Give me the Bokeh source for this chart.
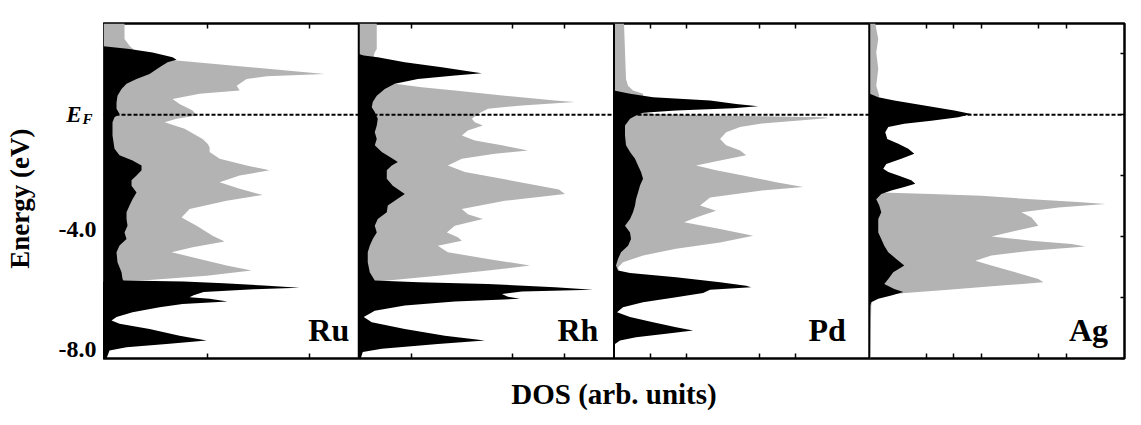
from math import pi
from bokeh.plotting import figure
from bokeh.layouts import row
from bokeh.models import Range1d, FixedTicker, LinearAxis, Span
from bokeh.core.properties import value
from bokeh.embed import file_html
from bokeh.resources import INLINE

metals = ["Ru", "Rh", "Pd", "Ag"]
panel_width = 255  # DOS (arb. units) span of one panel

# ---- Ru ----
ru_black_E = [3.0, 2.25, 2.16, 2.05, 1.89, 1.81, 1.73, 1.56, 1.34, 1.18, 1.02, 0.85, 0.63, 0.41, 0.20, 0.03,
              -0.08, -0.24, -0.68, -1.11, -1.33, -1.50, -1.66, -1.82, -1.99, -2.15, -2.33, -2.55, -2.77, -2.98,
              -3.20, -3.42, -3.64, -3.86, -4.08, -4.29, -4.51, -4.84, -5.17, -5.39, -5.44, -5.47, -5.53, -5.60,
              -5.68, -5.73, -5.82, -5.92, -5.99, -6.04, -6.13, -6.21, -6.32, -6.48, -6.64, -6.75, -6.86, -7.03,
              -7.25, -7.41, -7.52, -7.63, -7.74, -8.0]
ru_black_dos = [0, 0, 26, 49, 69, 73, 64, 56, 46, 33, 23, 18, 14, 13, 13, 16,
                11, 9, 9, 11, 16, 29, 38, 38, 33, 28, 28, 33, 29, 26,
                23, 23, 24, 21, 23, 16, 13, 14, 18, 19, 20, 80, 120, 160,
                196, 150, 100, 90, 86, 106, 124, 79, 56, 29, 13, 8, 16, 46,
                76, 103, 63, 23, 6, 3]
ru_gray_E = [3.0, 2.49, 2.27, 2.0, 1.85, 1.78, 1.34, 1.27, 1.18, 0.96, 0.80, 0.69, 0.52, 0.36, 0.14, -0.02,
             -0.13, -0.24, -0.46, -0.79, -0.95, -1.06, -1.22, -1.44, -1.66, -1.82, -1.99, -2.21, -2.43, -2.63,
             -2.82, -3.09, -3.37, -3.64, -3.97, -4.16, -4.35, -4.51, -4.73, -4.95, -5.11, -5.28, -5.42, -5.48, -8.0]
ru_gray_dos = [21, 21, 26, 35, 50, 76, 221, 163, 143, 133, 136, 96, 69, 76, 89, 93,
               73, 61, 81, 99, 104, 106, 106, 116, 143, 166, 136, 116, 136, 159,
               123, 86, 78, 93, 109, 121, 89, 68, 96, 123, 148, 103, 46, 0, 0]

# ---- Rh ----
rh_black_E = [3.0, 2.0, 1.95, 1.89, 1.73, 1.56, 1.40, 1.37, 1.29, 1.18, 1.02, 0.85, 0.63, 0.42, 0.25, 0.09,
              -0.13, -0.35, -0.57, -0.79, -1.00, -1.22, -1.44, -1.55, -1.66, -1.82, -2.10, -2.33, -2.60, -2.82,
              -2.98, -3.20, -3.42, -3.64, -3.86, -4.08, -4.30, -4.51, -4.84, -5.17, -5.44, -5.50, -5.55, -5.66,
              -5.74, -5.80, -5.88, -5.97, -6.04, -6.13, -6.26, -6.43, -6.64, -6.81, -7.03, -7.25, -7.41, -7.52,
              -7.68, -7.79, -8.0]
rh_black_dos = [0, 0, 5, 19, 46, 83, 116, 123, 96, 59, 36, 26, 18, 14, 13, 16,
                19, 18, 16, 18, 16, 23, 34, 39, 33, 28, 28, 34, 46, 36,
                29, 28, 19, 16, 18, 14, 11, 9, 9, 11, 16, 60, 129, 196,
                234, 163, 143, 149, 161, 96, 46, 16, 5, 13, 46, 86, 126, 79,
                23, 4, 2]
rh_gray_E = [3.0, 2.16, 2.06, 1.95, 1.5, 1.02, 0.91, 0.80, 0.63, 0.47, 0.42, 0.31, 0.20, 0.03, -0.13, -0.24,
             -0.35, -0.51, -0.68, -0.84, -1.00, -1.17, -1.28, -1.44, -1.66, -1.88, -2.10, -2.33, -2.45, -2.60,
             -2.82, -3.09, -3.26, -3.42, -3.64, -3.86, -4.02, -4.13, -4.30, -4.51, -4.73, -4.95, -5.11, -5.28,
             -5.44, -5.50, -8.0]
rh_gray_dos = [18, 18, 16, 15, 15, 36, 63, 96, 146, 196, 216, 163, 129, 119, 113, 116,
               124, 109, 103, 116, 143, 169, 136, 103, 89, 106, 143, 180, 200, 206,
               146, 103, 109, 124, 96, 88, 99, 103, 79, 89, 129, 171, 129, 79,
               29, 0, 0]

# ---- Pd ----
pd_black_E = [3.0, 0.80, 0.69, 0.58, 0.47, 0.36, 0.28, 0.22, 0.14, 0.07, -0.02, -0.13, -0.35, -0.68, -1.00,
              -1.22, -1.44, -1.66, -1.88, -2.10, -2.32, -2.55, -2.77, -2.98, -3.20, -3.42, -3.64, -3.86, -4.08,
              -4.30, -4.51, -4.73, -4.95, -5.11, -5.19, -5.33, -5.50, -5.61, -5.66, -5.74, -5.85, -5.99, -6.15,
              -6.32, -6.48, -6.64, -6.81, -6.97, -7.08, -7.19, -7.30, -7.41, -7.52, -8.0]
pd_black_dos = [0, 0, 16, 39, 96, 122, 144, 119, 62, 29, 22, 16, 11, 11, 12,
                16, 21, 24, 27, 29, 26, 24, 22, 21, 19, 16, 11, 16, 17,
                14, 7, 4, 2, 4, 16, 62, 106, 132, 137, 96, 89, 62, 29,
                9, 3, 16, 39, 62, 79, 52, 22, 6, 1, 0]
pd_gray_E = [3.0, 1.18, 0.96, 0.80, 0.69, 0.10, 0.03, -0.02, -0.08, -0.10, -0.19, -0.29, -0.40, -0.57, -0.79,
             -1.00, -1.17, -1.33, -1.50, -1.66, -1.82, -1.99, -2.21, -2.37, -2.49, -2.71, -2.98, -3.15, -3.37,
             -3.53, -3.75, -3.97, -4.19, -4.40, -4.62, -4.84, -5.01, -5.11, -5.19, -8.0]
pd_gray_dos = [10, 12, 14, 19, 29, 30, 39, 96, 209, 215, 182, 146, 126, 112, 106,
               112, 126, 132, 106, 82, 102, 129, 162, 189, 146, 96, 86, 102, 82,
               70, 106, 139, 106, 62, 29, 9, 4, 5, 0, 0]

# ---- Ag ----
ag_black_E = [3.0, 0.70, 0.58, 0.47, 0.31, 0.14, 0.03, -0.08, -0.19, -0.29, -0.40, -0.57, -0.79, -0.95, -1.11,
              -1.28, -1.44, -1.61, -1.77, -1.88, -1.99, -2.15, -2.26, -2.37, -2.48, -2.60, -2.77, -2.98, -3.20,
              -3.42, -3.64, -3.86, -4.08, -4.30, -4.51, -4.73, -4.95, -5.17, -5.39, -5.55, -5.72, -5.82, -5.93,
              -6.04, -6.15, -6.26, -8.0]
ag_black_dos = [0, 0, 9, 25, 55, 85, 102, 89, 62, 35, 19, 16, 18, 29, 39,
                45, 32, 17, 14, 19, 29, 42, 46, 35, 22, 12, 7, 10, 12,
                9, 9, 9, 12, 15, 19, 27, 35, 24, 19, 15, 25, 34, 22,
                9, 2, 1, 0]
ag_gray_E = [3.0, 2.49, 2.06, 1.51, 0.96, 0.63, 0.40, -2.40, -2.55, -2.60, -2.66, -2.77, -2.87, -2.93, -3.04,
             -3.20, -3.37, -3.64, -3.86, -3.99, -4.13, -4.24, -4.32, -4.46, -4.62, -4.79, -4.95, -5.17, -5.39,
             -5.50, -5.61, -5.74, -5.85, -5.93, -6.00, -6.30, -8.0]
ag_gray_dos = [6, 9, 7, 9, 7, 10, 8, 8, 12, 62, 112, 162, 212, 236, 189,
               152, 162, 169, 139, 122, 162, 202, 216, 162, 122, 106, 122, 146, 169,
               174, 129, 79, 36, 12, 3, 2, 1]

black_E = [ru_black_E, rh_black_E, pd_black_E, ag_black_E]
black_dos = [ru_black_dos, rh_black_dos, pd_black_dos, ag_black_dos]
gray_E = [ru_gray_E, rh_gray_E, pd_gray_E, ag_gray_E]
gray_dos = [ru_gray_dos, rh_gray_dos, pd_gray_dos, ag_gray_dos]

# tick marks (inside each panel, DOS units from the panel's left edge)
panel_ticks = [[104, 206], [53, 154, 206], [36, 72, 145, 181], [57, 84, 112, 169, 197]]
energy_ticks = [-8.0, -4.0]
energy_tick_labels = ["-8.0", "-4.0"]
fermi_level = 0.0

FONT = "Liberation Serif"
GRAY = "#b3b3b3"
H = 417
TOP = 23
BOTTOM = 59
E_MIN, E_MAX = -8.0, 3.0
LEFT_W = 103
LABEL_CENTER = [225, 219, 213, 219]  # panel-name placement within each panel (style)

# ---------- left strip: energy axis title and tick labels ----------
lf = figure(width=LEFT_W, height=H, x_range=Range1d(-LEFT_W, 0), y_range=Range1d(E_MIN, E_MAX),
            output_backend="svg", toolbar_location=None, x_axis_location=None, y_axis_location=None,
            min_border_left=0, min_border_right=0, min_border_top=TOP, min_border_bottom=BOTTOM)
lf.xgrid.visible = False
lf.ygrid.visible = False
lf.outline_line_color = None
lf.border_fill_color = "white"
lf.background_fill_color = "white"

lf.text(x=[-84], y=[-2.75], text=["Energy (eV)"], angle=pi / 2,
        text_font=value(FONT), text_font_style="bold", text_font_size="27px",
        text_align="center", text_baseline="middle", text_color="black")
lf.text(x=[-7] * len(energy_ticks), y=[max(t + 0.25, -7.7) for t in energy_ticks], text=energy_tick_labels,
        text_font=value(FONT), text_font_style="bold", text_font_size="24px",
        text_align="right", text_baseline="middle", text_color="black")
lf.text(x=[-22], y=[fermi_level + 0.02], text=["E"],
        text_font=value(FONT), text_font_style="bold italic", text_font_size="23px",
        text_align="right", text_baseline="middle", text_color="black")
lf.text(x=[-21], y=[fermi_level - 0.13], text=["F"],
        text_font=value(FONT), text_font_style="bold italic", text_font_size="15px",
        text_align="left", text_baseline="middle", text_color="black")

# ---------- main panels ----------
p = figure(width=1034, height=H,
           x_range=Range1d(0, 4 * panel_width), y_range=Range1d(E_MIN, E_MAX),
           output_backend="svg", toolbar_location=None, y_axis_location=None,
           min_border_left=0, min_border_right=13, min_border_top=TOP, min_border_bottom=BOTTOM)
p.xgrid.visible = False
p.ygrid.visible = False
p.outline_line_color = "black"
p.outline_line_width = 2.5
p.background_fill_color = "white"
p.border_fill_color = "white"

for i in range(4):
    off = i * panel_width
    p.harea(y=gray_E[i], x1=[off] * len(gray_E[i]), x2=[off + d for d in gray_dos[i]],
            fill_color=GRAY, fill_alpha=1.0)
    p.harea(y=black_E[i], x1=[off] * len(black_E[i]), x2=[off + d for d in black_dos[i]],
            fill_color="black", fill_alpha=1.0)

# Fermi level
p.add_layout(Span(location=fermi_level, dimension="width", line_color="black", line_width=2,
                  line_dash="4 2"))
# panel dividers
for i in range(1, 4):
    p.add_layout(Span(location=i * panel_width, dimension="height", line_color="black", line_width=2))

# panel labels
p.text(x=[i * panel_width + LABEL_CENTER[i] for i in range(4)], y=[-7.05] * 4, text=metals,
       text_font=value(FONT), text_font_style="bold", text_font_size="32px",
       text_align="center", text_baseline="middle", text_color="black")

all_ticks = [i * panel_width + t for i, ts in enumerate(panel_ticks) for t in ts]

xa = p.xaxis[0]
xa.ticker = FixedTicker(ticks=all_ticks)
xa.major_tick_in = 5
xa.major_tick_out = 0
xa.major_tick_line_width = 1.5
xa.minor_tick_line_color = None
xa.axis_line_color = None
xa.major_label_text_font_size = "0px"
xa.major_label_standoff = 0
xa.axis_label = "DOS (arb. units)"
xa.axis_label_text_font = FONT
xa.axis_label_text_font_style = "bold"
xa.axis_label_text_font_size = "29px"
xa.axis_label_text_color = "black"
xa.axis_label_standoff = 19

top = LinearAxis(ticker=FixedTicker(ticks=all_ticks), major_tick_in=5, major_tick_out=0,
                 major_tick_line_width=1.5, minor_tick_line_color=None, axis_line_color=None,
                 major_label_text_font_size="0px", major_label_standoff=0)
p.add_layout(top, "above")

right = LinearAxis(ticker=FixedTicker(ticks=[-8, -6, -4, -2, 0, 2]), major_tick_in=4, major_tick_out=0,
                   major_tick_line_width=1.5, minor_tick_line_color=None, axis_line_color=None,
                   major_label_text_font_size="0px", major_label_standoff=0)
p.add_layout(right, "right")

layout = row(lf, p)
open("out.html", "w").write(file_html(layout, INLINE))
